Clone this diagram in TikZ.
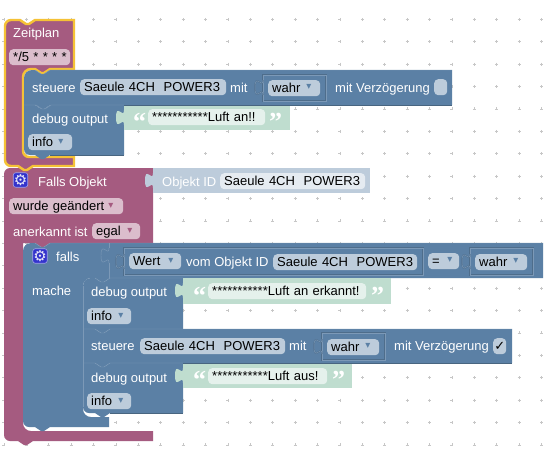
\documentclass[tikz,border=0pt]{standalone}
\usepackage{fontspec}
\setmainfont{Liberation Sans}
\newfontfamily\symfont{DejaVu Sans}
\newfontfamily\quotefont{Liberation Serif}
\definecolor{purpleblk}{HTML}{A55B80}
\definecolor{purplefld}{HTML}{DBBDCC}
\definecolor{blueblk}{HTML}{5B80A5}
\definecolor{bluefld}{HTML}{BDCCDB}
\definecolor{bluehi}{HTML}{7C99B7}
\definecolor{bluedark}{HTML}{486580}
\definecolor{greenblk}{HTML}{BFDDCF}
\definecolor{greenfld}{HTML}{E5F1EC}
\definecolor{idblk}{HTML}{BDCCDB}
\definecolor{idfld}{HTML}{E5EBF1}
\definecolor{selcol}{HTML}{F5C236}
\definecolor{gearcol}{HTML}{3333CC}
\newcommand{\notchtop}{-- ++(6,4) -- ++(3,0) -- ++(6,-4)}
\newcommand{\notchbot}{-- ++(-6,4) -- ++(-3,0) -- ++(-6,-4)}
\tikzset{
  every node/.style={font=\fontsize{13}{15}\selectfont},
  lbl/.style={anchor=base west, inner sep=0pt, text=white},
  field/.style={
    anchor=north west, rounded corners=4pt, minimum height=16pt,
    inner xsep=4pt, inner ysep=0pt, text width=#1pt-8pt, align=left,
    text height=11pt, text depth=3pt, text=black
  },
  pfield/.style={field=#1, fill=purplefld},
  bfield/.style={field=#1, fill=bluefld},
  gfield/.style={field=#1, fill=greenfld},
  drop/.style={font=\symfont\fontsize{10}{12}\selectfont, inner sep=0pt},
  quo/.style={
    anchor=base west, inner sep=0pt, text=white,
    font=\quotefont\bfseries\fontsize{26}{26}\selectfont
  },
  gear/.style={
    draw=gearcol!45, line width=0.6pt, fill=gearcol, rounded corners=2.5pt,
    minimum size=14.5pt, inner sep=0pt, text=gearcol!12,
    font=\symfont\fontsize{15}{15}\selectfont
  },
  bevel/.style={draw=bluehi, line width=0.45pt},
  shade/.style={draw=bluedark, line width=0.6pt},
  valblk/.style={
    draw=bluedark!70!blueblk, double=bluehi, double distance=0.5pt,
    line width=0.4pt
  },
  tab/.pic={
    \path[pic actions] (0,0) .. controls (0,-10) and (-8,8) .. (-8,-7.5)
      .. controls (-8,-23) and (0,-5) .. (0,-15);
  }
}
\begin{document}
\begin{tikzpicture}[x=1pt, y=-1pt]
    \useasboundingbox (0,0) rectangle (546,463);
    \fill[white] (0,0) rectangle (546,463);

    % Workspace grid
    \foreach \k in {0,...,24} {
      \foreach \l in {0,...,19} {
        \draw[black!22, line width=0.6pt] ({3.9+22.4*\k-1.5},{19.3+22.4*\l}) -- ++(3,0)
          ({3.9+22.4*\k},{19.3+22.4*\l-1.5}) -- ++(0,3);
      }
    }

    % Falls Objekt block
    \fill[purpleblk] (4,174) [rounded corners=6] -- (4,168) [sharp corners] -- (153,168)
      -- (153,243) -- (50,243) \notchbot -- (23,243) -- (23,423) [rounded corners=8] -- (23,431)
      [sharp corners] -- (153,431) -- (153,441) -- (33,441) \notchbot -- (10,441)
      [rounded corners=6] -- (4,441) [sharp corners] -- cycle;
    \fill[idblk] (153,168) rectangle (370,193);
    \pic[fill=idblk] at (153,188) {tab};

    % falls block
    \fill[blueblk] (23,251) [rounded corners=8] -- (23,243) [sharp corners] -- (35,243)
      \notchtop -- (543,243) -- (543,278) -- (110,278) \notchbot -- (91,278)
      [rounded corners=8] -- (83,278)
      [sharp corners] -- (83,409) [rounded corners=8] -- (83,417) [sharp corners]
      -- (109,417) -- (109,427) -- (50,427) \notchbot -- (29,427) [rounded corners=6]
      -- (23,427) [sharp corners] -- cycle;
    \draw[bevel] (109,243) -- (109,248);
    \pic[bevel] at (109,263) {tab};
    \draw[bevel] (109,263) -- (109,278);

    % Value blocks in falls
    \draw[valblk] (124,248) rectangle (423,275);
    \pic[valblk] at (124,269) {tab};
    \draw[valblk] (470,248) rectangle (533,275);
    \pic[valblk] at (470,269) {tab};

    % Statements in falls
    \fill[blueblk] (83,286) [rounded corners=8] -- (83,278) [sharp corners] -- (95,278)
      \notchtop -- (183,278) -- (183,329) -- (110,329) \notchbot -- (83,329) -- cycle;
    \fill[blueblk] (83,329) -- (95,329) \notchtop -- (512,329) -- (512,363) -- (110,363)
      \notchbot -- (83,363) -- cycle;
    \fill[blueblk] (83,363) -- (95,363) \notchtop -- (183,363) -- (183,413) -- (110,413)
      \notchbot -- (89,413) [rounded corners=6] -- (83,413) [sharp corners] -- cycle;
    \fill[greenblk] (183,278) rectangle (391,304);
    \pic[fill=greenblk] at (183,298) {tab};
    \fill[greenblk] (183,363) rectangle (352,388);
    \pic[fill=greenblk] at (183,383) {tab};
    \draw[valblk] (322,333) rectangle (385,360);
    \pic[valblk] at (322,354) {tab};

    % Zeitplan block
    \draw[selcol, fill=purpleblk, line width=2.4pt] (5,26) [rounded corners=6] -- (5,20)
      [sharp corners] -- (20,20) -- ++(6,4) -- ++(3,0) -- ++(6,-4) -- (74,20) -- (74,69)
      -- (50,69) \notchbot -- (31,69) [rounded corners=8] -- (23,69) [sharp corners] -- (23,151)
      [rounded corners=6] -- (23,157) [sharp corners] -- (74,157) -- (74,166) -- (33,166)
      \notchbot -- (11,166) [rounded corners=6] -- (5,166) [sharp corners] -- cycle;

    % Statements in Zeitplan
    \fill[blueblk] (24,78) [rounded corners=8] -- (24,70) [sharp corners] -- (35,70)
      \notchtop -- (452,70) -- (452,105) -- (50,105) \notchbot -- (24,105) -- cycle;
    \fill[blueblk] (24,105) -- (35,105) \notchtop -- (124,105) -- (124,155) -- (50,155)
      \notchbot -- (30,155) [rounded corners=6] -- (24,155) [sharp corners] -- cycle;
    \fill[greenblk] (124,105) rectangle (290,130);
    \pic[fill=greenblk] at (124,125) {tab};
    \draw[valblk] (263,75) rectangle (326,101);
    \pic[valblk] at (263,95) {tab};

    % Edges
    \foreach \xa/\ya/\xb in {83/329/512, 83/363/183, 24/105/124} {
      \draw[bevel] (\xa,\ya) -- ++(12,0) \notchtop -- (\xb,\ya);
    }
    \foreach \xa/\ya/\xb in {95/278/183, 35/243/543, 35/70/452} {
      \draw[bevel] (\xa,\ya) \notchtop -- (\xb,\ya);
    }
    \draw[bevel] (83,286) -- (83,407);
    \foreach \xa/\ya/\xb in {124/105/452, 50/155/124, 110/413/183, 183/363/512} {
      \draw[shade] (\xa,\ya) -- (\xb,\ya);
    }

    % Zeitplan texts
    \node[lbl] (zeitplan) at (13,37) {Zeitplan};
    \node[pfield=61] (cron) at (9,49) {\mbox{*/5 * * * *}};
    \node[lbl] (steuereA) at (32,92) {steuere};
    \node[bfield=146] (saeuleA) at (80,79) {Saeule 4CH\ \ POWER3};
    \node[lbl] (mitA) at (230,92) {mit};
    \node[bfield=52] (wahrA) at (268,80) {wahr};
    \node[drop, text=blueblk] (dropA) at (309,87) {▾};
    \node[lbl] (delayA) at (335,92) {mit Verzögerung};
    \node[bfield=13] (checkA) at (434,79) {};
    \node[lbl] (debugA) at (32,123) {debug output};
    \node[quo] (openA) at (133,130) {“};
    \node[gfield=117] (textA) at (148,109) {***********Luft an!!};
    \node[quo] (closeA) at (269,130) {”};
    \node[bfield=44] (infoA) at (28,134) {info};
    \node[drop, text=blueblk] (dropB) at (61,142) {▾};

    % Falls Objekt texts
    \node[gear] (gearA) at (20.5,180) {⚙};
    \node[lbl] (fallsobj) at (38,186) {Falls Objekt};
    \node[lbl] (objid) at (162,186) {Objekt ID};
    \node[field=145, fill=idfld] (saeuleB) at (220,173) {Saeule 4CH\ \ POWER3};
    \node[pfield=114] (changed) at (9,198) {wurde geändert};
    \node[drop, text=purpleblk] (dropC) at (111,206) {▾};
    \node[lbl] (anerkannt) at (13,236) {anerkannt ist};
    \node[pfield=48] (egal) at (92,223) {egal};
    \node[drop, text=purpleblk] (dropD) at (130,231) {▾};

    % falls texts
    \node[gear] (gearB) at (40,256) {⚙};
    \node[lbl] (falls) at (56,261) {falls};
    \node[lbl] (mache) at (32,295) {mache};
    \node[bfield=52] (wert) at (129,253) {Wert};
    \node[drop, text=blueblk] (dropE) at (171,261) {▾};
    \node[lbl] (vomid) at (186,266) {vom Objekt ID};
    \node[bfield=144] (saeuleC) at (273,254) {Saeule 4CH\ \ POWER3};
    \node[bfield=31] (equal) at (428,253) {=};
    \node[drop, text=blueblk] (dropF) at (450,260) {▾};
    \node[bfield=52] (wahrB) at (475,254) {wahr};
    \node[drop, text=blueblk] (dropG) at (516,261) {▾};

    % Statement texts
    \node[lbl] (debugB) at (91,296) {debug output};
    \node[quo] (openB) at (193,304) {“};
    \node[gfield=158] (textB) at (208,283) {***********Luft an erkannt!};
    \node[quo] (closeB) at (371,304) {”};
    \node[bfield=44] (infoB) at (87,308) {info};
    \node[drop, text=blueblk] (dropH) at (121,316) {▾};
    \node[lbl] (steuereB) at (91,350) {steuere};
    \node[bfield=145] (saeuleD) at (140,338) {Saeule 4CH\ \ POWER3};
    \node[lbl] (mitB) at (289,350) {mit};
    \node[bfield=52] (wahrC) at (327,339) {wahr};
    \node[drop, text=blueblk] (dropI) at (368,346) {▾};
    \node[lbl] (delayB) at (394,350) {mit Verzögerung};
    \node[bfield=13] (checkB) at (493,338) {};
    \node[font=\symfont\fontsize{13}{15}\selectfont, inner sep=0pt] (tickB) at (checkB.center) {✓};
    \node[lbl] (debugC) at (91,382) {debug output};
    \node[quo] (openC) at (193,388) {“};
    \node[gfield=119] (textC) at (208,368) {***********Luft aus!};
    \node[quo] (closeC) at (332,388) {”};
    \node[bfield=44] (infoC) at (87,393) {info};
    \node[drop, text=blueblk] (dropJ) at (121,401) {▾};

    \end{tikzpicture}
\end{document}
